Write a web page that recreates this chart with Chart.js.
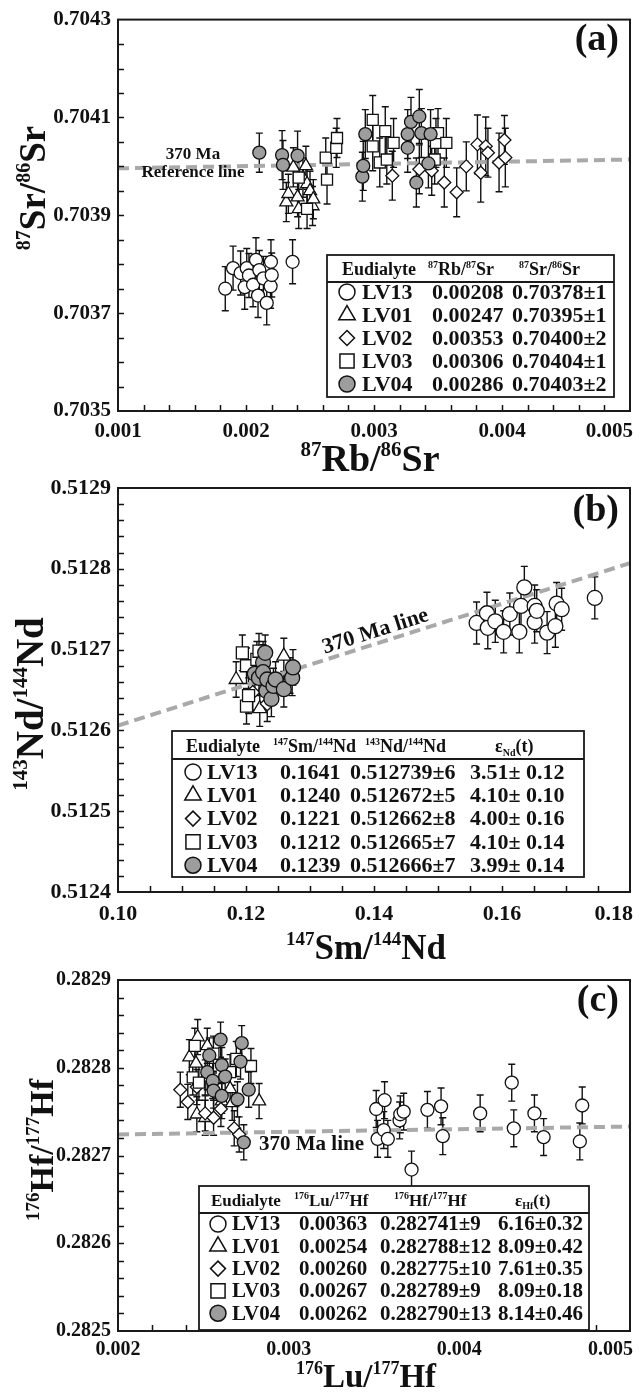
<!DOCTYPE html>
<html>
<head>
<meta charset="utf-8">
<script src="https://cdn.jsdelivr.net/npm/chart.js@4.4.0/dist/chart.umd.min.js"></script>
<style>
  html, body { margin: 0; padding: 0; background: #fff; }
  body { width: 643px; height: 1394px; position: relative; overflow: hidden; }
  canvas { position: absolute; left: 0; display: block; }
</style>
</head>
<body>
<canvas id="srChart" width="643" height="490" style="top:0"></canvas>
<canvas id="ndChart" width="643" height="505" style="top:460px"></canvas>
<canvas id="hfChart" width="643" height="454" style="top:940px"></canvas>
<script>
// ---------- (a) Rb-Sr ----------
const srXTicks = [0.001, 0.002, 0.003, 0.004, 0.005];
const srYTicks = [0.7035, 0.7037, 0.7039, 0.7041, 0.7043];
const srRefLine = [[0.001, 0.703996], [0.005, 0.704014]];
// [87Rb/86Sr, 87Sr/86Sr, 2s]
const srLV13 = [
  [0.001838, 0.703750, 0.000045], [0.001899, 0.703792, 0.000045], [0.001958, 0.703782, 0.000045],
  [0.001990, 0.703753, 0.000045], [0.002006, 0.703792, 0.000040], [0.002023, 0.703777, 0.000045],
  [0.002055, 0.703758, 0.000045], [0.002078, 0.703809, 0.000045], [0.002094, 0.703736, 0.000045],
  [0.002104, 0.703788, 0.000040], [0.002136, 0.703771, 0.000045], [0.002162, 0.703721, 0.000045],
  [0.002192, 0.703755, 0.000045], [0.002195, 0.703805, 0.000045], [0.002201, 0.703778, 0.000045],
  [0.002364, 0.703805, 0.000045]
];
const srLV01 = [
  [0.002315, 0.703927, 0.00004], [0.002331, 0.703944, 0.00004], [0.002370, 0.703998, 0.00004],
  [0.002403, 0.703937, 0.00004], [0.002412, 0.703913, 0.00004], [0.002445, 0.703977, 0.00004],
  [0.002468, 0.704001, 0.00004], [0.002477, 0.703964, 0.00004], [0.002500, 0.703950, 0.00004],
  [0.002520, 0.703919, 0.00004], [0.002526, 0.703933, 0.00004]
];
const srLV02 = [
  [0.003143, 0.703981, 0.00005], [0.003354, 0.703994, 0.00005], [0.003451, 0.703991, 0.00005],
  [0.003549, 0.703967, 0.00005], [0.003646, 0.703947, 0.00005], [0.003721, 0.704000, 0.00005],
  [0.003808, 0.704045, 0.00006], [0.003834, 0.703987, 0.00006], [0.003873, 0.704041, 0.00006],
  [0.003890, 0.704028, 0.00005], [0.003977, 0.704008, 0.00006], [0.004019, 0.704054, 0.00005],
  [0.004026, 0.704018, 0.00006]
];
const srLV03 = [
  [0.002412, 0.703977, 0.00004], [0.002477, 0.703913, 0.00004], [0.002623, 0.704018, 0.00004],
  [0.002633, 0.703973, 0.00005], [0.002705, 0.704038, 0.00004], [0.002711, 0.704058, 0.00004],
  [0.002990, 0.704095, 0.00005], [0.002990, 0.704041, 0.00005], [0.003045, 0.704008, 0.00005],
  [0.003088, 0.704072, 0.00005], [0.003100, 0.704014, 0.00005], [0.003153, 0.704048, 0.00005],
  [0.003474, 0.704014, 0.00005], [0.003484, 0.704048, 0.00005], [0.003500, 0.704068, 0.00005],
  [0.003565, 0.704048, 0.00005]
];
const srLV04 = [
  [0.002104, 0.704028, 0.00004], [0.002282, 0.704023, 0.00005], [0.002289, 0.704003, 0.00005],
  [0.002403, 0.704022, 0.00005], [0.002909, 0.703979, 0.00005], [0.002916, 0.704001, 0.00005],
  [0.002932, 0.704066, 0.00005], [0.003263, 0.704066, 0.00005], [0.003263, 0.704038, 0.00005],
  [0.003289, 0.704091, 0.00005], [0.003331, 0.703967, 0.00005], [0.003354, 0.704102, 0.000055],
  [0.003370, 0.704068, 0.00005], [0.003425, 0.704006, 0.00005], [0.003442, 0.704066, 0.00005]
];
const srHeader = ['Eudialyte', '^87Rb/^87Sr', '^87Sr/^86Sr'];
const srRbSr = ['0.00208', '0.00247', '0.00353', '0.00306', '0.00286'];
const srSrSr = ['0.70378\u00b11', '0.70395\u00b11', '0.70400\u00b12', '0.70404\u00b11', '0.70403\u00b12'];

// ---------- (b) Sm-Nd ----------
const ndXTicks = [0.10, 0.12, 0.14, 0.16, 0.18];
const ndYTicks = [0.5124, 0.5125, 0.5126, 0.5127, 0.5128, 0.5129];
const ndRefLine = [[0.10, 0.512606], [0.18, 0.512807]];
const ndLV13 = [
  [0.15603, 0.512733, 0.000026], [0.15765, 0.512745, 0.000026], [0.15778, 0.512727, 0.000026],
  [0.15895, 0.512735, 0.000026], [0.16025, 0.512722, 0.000026], [0.16122, 0.512744, 0.000026],
  [0.16271, 0.512722, 0.000026], [0.16297, 0.512754, 0.000026], [0.16349, 0.512777, 0.000026],
  [0.16510, 0.512754, 0.000026], [0.16510, 0.512734, 0.000026], [0.16543, 0.512748, 0.000026],
  [0.16705, 0.512721, 0.000026], [0.16834, 0.512729, 0.000026], [0.16854, 0.512757, 0.000026],
  [0.16932, 0.512750, 0.000026], [0.17450, 0.512764, 0.000026]
];
const ndLV01 = [
  [0.11846, 0.512663, 0.000022], [0.12215, 0.512627, 0.000022], [0.12267, 0.512688, 0.000022],
  [0.12591, 0.512692, 0.000022], [0.12688, 0.512668, 0.000022]
];
const ndLV02 = [
  [0.12105, 0.512647, 0.000022], [0.12203, 0.512680, 0.000022], [0.12332, 0.512633, 0.000022]
];
const ndLV03 = [
  [0.11943, 0.512696, 0.000022], [0.12008, 0.512680, 0.000022], [0.12008, 0.512630, 0.000022],
  [0.12040, 0.512643, 0.000022], [0.12170, 0.512688, 0.000022], [0.12203, 0.512698, 0.000022]
];
const ndLV04 = [
  [0.12138, 0.512670, 0.000022], [0.12203, 0.512665, 0.000022], [0.12267, 0.512684, 0.000022],
  [0.12267, 0.512672, 0.000022], [0.12300, 0.512696, 0.000022], [0.12319, 0.512649, 0.000022],
  [0.12332, 0.512663, 0.000022], [0.12397, 0.512639, 0.000022], [0.12429, 0.512655, 0.000022],
  [0.12462, 0.512663, 0.000022], [0.12591, 0.512651, 0.000022], [0.12721, 0.512665, 0.000022],
  [0.12734, 0.512678, 0.000022]
];
const ndHeader = ['Eudialyte', '^147Sm/^144Nd', '^143Nd/^144Nd', '\u03b5_Nd(t)'];
const ndSmNd = ['0.1641', '0.1240', '0.1221', '0.1212', '0.1239'];
const ndNdNd = ['0.512739\u00b16', '0.512672\u00b15', '0.512662\u00b18', '0.512665\u00b17', '0.512666\u00b17'];
const ndEps = ['3.51\u00b1 0.12', '4.10\u00b1 0.10', '4.00\u00b1 0.16', '4.10\u00b1 0.14', '3.99\u00b1 0.14'];

// ---------- (c) Lu-Hf ----------
const hfXTicks = [0.002, 0.003, 0.004, 0.005];
const hfYTicks = [0.2825, 0.2826, 0.2827, 0.2828, 0.2829];
const hfRefLine = [[0.002, 0.282724], [0.005, 0.282733]];
const hfLV13 = [
  [0.003513, 0.282753, 0.000021], [0.003521, 0.282719, 0.000021], [0.003557, 0.282729, 0.000021],
  [0.003562, 0.282763, 0.000021], [0.003581, 0.282719, 0.000021], [0.003650, 0.282740, 0.000021],
  [0.003654, 0.282747, 0.000021], [0.003674, 0.282750, 0.000021], [0.003720, 0.282684, 0.000021],
  [0.003813, 0.282752, 0.000021], [0.003893, 0.282756, 0.000021], [0.003903, 0.282722, 0.000021],
  [0.004122, 0.282748, 0.000021], [0.004307, 0.282783, 0.000021], [0.004319, 0.282731, 0.000021],
  [0.004440, 0.282748, 0.000021], [0.004494, 0.282721, 0.000021], [0.004706, 0.282716, 0.000021],
  [0.004720, 0.282757, 0.000021]
];
const hfLV01 = [
  [0.002418, 0.282812, 0.00002], [0.002457, 0.282805, 0.00002], [0.002462, 0.282747, 0.00002],
  [0.002467, 0.282835, 0.00002], [0.002511, 0.282789, 0.00002], [0.002511, 0.282743, 0.00002],
  [0.002523, 0.282825, 0.00002], [0.002608, 0.282762, 0.00002], [0.002657, 0.282776, 0.00002],
  [0.002669, 0.282760, 0.00002], [0.002827, 0.282762, 0.00002]
];
const hfLV02 = [
  [0.002365, 0.282775, 0.00002], [0.002409, 0.282761, 0.00002], [0.002462, 0.282778, 0.00002],
  [0.002511, 0.282748, 0.00002], [0.002560, 0.282743, 0.00002], [0.002603, 0.282753, 0.00002],
  [0.002681, 0.282731, 0.00002], [0.002710, 0.282724, 0.00002]
];
const hfLV03 = [
  [0.002438, 0.282789, 0.00002], [0.002450, 0.282825, 0.00002], [0.002474, 0.282783, 0.00002],
  [0.002559, 0.282816, 0.00002], [0.002657, 0.282795, 0.00002], [0.002693, 0.282810, 0.00002],
  [0.002779, 0.282802, 0.00002]
];
const hfLV04 = [
  [0.002523, 0.282795, 0.00002], [0.002535, 0.282814, 0.00002], [0.002555, 0.282785, 0.00002],
  [0.002560, 0.282774, 0.00002], [0.002601, 0.282832, 0.00002], [0.002608, 0.282803, 0.00002],
  [0.002608, 0.282768, 0.00002], [0.002628, 0.282790, 0.00002], [0.002700, 0.282764, 0.00002],
  [0.002718, 0.282807, 0.00002], [0.002725, 0.282828, 0.00002], [0.002737, 0.282715, 0.00002],
  [0.002766, 0.282775, 0.00002]
];
const hfHeader = ['Eudialyte', '^176Lu/^177Hf', '^176Hf/^177Hf', '\u03b5_Hf(t)'];
const hfLuHf = ['0.00363', '0.00254', '0.00260', '0.00267', '0.00262'];
const hfHfHf = ['0.282741\u00b19', '0.282788\u00b112', '0.282775\u00b110', '0.282789\u00b19', '0.282790\u00b113'];
const hfEps = ['6.16\u00b10.32', '8.09\u00b10.42', '7.61\u00b10.35', '8.09\u00b10.18', '8.14\u00b10.46'];

const samples = ['LV13', 'LV01', 'LV02', 'LV03', 'LV04'];

// ---------- shared drawing helpers ----------
const SERIF = "'Liberation Serif', 'Times New Roman', serif";
const INK = '#111';
const markStyle = {
  LV13: { shape: 'circle', fill: '#ffffff' },
  LV01: { shape: 'triangle', fill: '#ffffff' },
  LV02: { shape: 'rectRot', fill: '#ffffff' },
  LV03: { shape: 'rect', fill: '#ffffff' },
  LV04: { shape: 'circle', fill: '#9d9d9d' }
};
// lower order is painted later (on top)
const drawOrder = { LV13: 5, LV01: 4, LV02: 3, LV03: 2, LV04: 1 };

// '^87' -> superscript, '_Nd' -> subscript, rest normal
function richParts(str) {
  return str.match(/\^\d+|_[A-Z][a-z]*|[^\^_]+/g).map(p =>
    p[0] === '^' ? { t: p.slice(1), k: 'sup' } :
    p[0] === '_' ? { t: p.slice(1), k: 'sub' } : { t: p, k: 'n' });
}

function drawRich(ctx, str, x, y, size, small, align, rotate) {
  const parts = richParts(str);
  const font = s => `bold ${s}px ${SERIF}`;
  let w = 0;
  parts.forEach(p => {
    ctx.font = font(p.k === 'n' ? size : small);
    p.w = ctx.measureText(p.t).width;
    w += p.w;
  });
  ctx.save();
  ctx.translate(x, y);
  if (rotate) ctx.rotate(rotate);
  ctx.fillStyle = INK;
  ctx.textAlign = 'left';
  ctx.textBaseline = 'alphabetic';
  let cx = align === 'center' ? -w / 2 : align === 'right' ? -w : 0;
  parts.forEach(p => {
    ctx.font = font(p.k === 'n' ? size : small);
    const dy = p.k === 'sup' ? -size * 0.4 : p.k === 'sub' ? size * 0.22 : 0;
    ctx.fillText(p.t, cx, dy);
    cx += p.w;
  });
  ctx.restore();
}

function drawMark(ctx, shape, r, x, y, fill) {
  ctx.beginPath();
  if (shape === 'circle') {
    ctx.arc(x, y, r, 0, Math.PI * 2);
  } else if (shape === 'triangle') {
    ctx.moveTo(x, y - r);
    ctx.lineTo(x + r * 0.866, y + r * 0.5);
    ctx.lineTo(x - r * 0.866, y + r * 0.5);
    ctx.closePath();
  } else if (shape === 'rectRot') {
    ctx.moveTo(x, y - r); ctx.lineTo(x + r, y); ctx.lineTo(x, y + r); ctx.lineTo(x - r, y);
    ctx.closePath();
  } else {
    const s = r * Math.SQRT1_2;
    ctx.rect(x - s, y - s, 2 * s, 2 * s);
  }
  ctx.fillStyle = fill;
  ctx.fill();
  ctx.lineWidth = 1.5;
  ctx.strokeStyle = INK;
  ctx.stroke();
}

// frame, inward ticks, labels, titles, reference-line text and the summary table
function panelDecor(p) {
  return {
    id: 'decor',
    beforeDatasetsDraw(chart) {
      const ctx = chart.ctx, ys = chart.scales.y;
      ctx.save();
      ctx.strokeStyle = INK;
      ctx.lineWidth = 1.4;
      chart.data.datasets.forEach((ds, i) => {
        if (!ds.errors) return;
        chart.getDatasetMeta(i).data.forEach((pt, j) => {
          const v = ds.data[j].y, e = ds.errors[j];
          const y1 = ys.getPixelForValue(v + e), y2 = ys.getPixelForValue(v - e);
          ctx.beginPath();
          ctx.moveTo(pt.x, y1); ctx.lineTo(pt.x, y2);
          ctx.moveTo(pt.x - 3.5, y1); ctx.lineTo(pt.x + 3.5, y1);
          ctx.moveTo(pt.x - 3.5, y2); ctx.lineTo(pt.x + 3.5, y2);
          ctx.stroke();
        });
      });
      ctx.restore();
    },
    afterDraw(chart) {
      const ctx = chart.ctx, a = chart.chartArea;
      const xs = chart.scales.x, ys = chart.scales.y;
      ctx.save();

      // minor + major ticks, pointing inward
      ctx.strokeStyle = INK;
      ctx.lineWidth = 1.5;
      ctx.beginPath();
      const nx = Math.round((p.xMax - p.xMin) / p.xMinor);
      for (let i = 1; i < nx; i++) {
        const px = Math.round(xs.getPixelForValue(p.xMin + i * p.xMinor)) + 0.5;
        ctx.moveTo(px, a.bottom); ctx.lineTo(px, a.bottom - 6);
      }
      const ny = Math.round((p.yMax - p.yMin) / p.yMinor);
      for (let i = 1; i < ny; i++) {
        const py = Math.round(ys.getPixelForValue(p.yMin + i * p.yMinor)) + 0.5;
        ctx.moveTo(a.left, py); ctx.lineTo(a.left + 6, py);
      }
      ctx.stroke();

      // frame
      ctx.lineWidth = 2;
      ctx.strokeStyle = '#1a1a1a';
      ctx.strokeRect(a.left, a.top, a.right - a.left, a.bottom - a.top);

      // x tick labels (last one kept inside the frame)
      ctx.fillStyle = INK;
      ctx.font = `bold ${p.tickSize}px ${SERIF}`;
      ctx.textBaseline = 'middle';
      p.xTicks.forEach((v, i) => {
        const last = i === p.xTicks.length - 1;
        ctx.textAlign = last ? 'right' : 'center';
        const px = last ? a.right + 3 : xs.getPixelForValue(v);
        ctx.fillText(v.toFixed(p.xDigits), px, a.bottom + p.labelGap);
      });

      // axis titles
      drawRich(ctx, p.xTitle.text, p.xTitle.x, p.xTitle.y, p.xTitle.size, p.xTitle.sup, 'center', 0);
      drawRich(ctx, p.yTitle.text, p.yTitle.x, p.yTitle.y, p.yTitle.size, p.yTitle.sup, 'center', -Math.PI / 2);

      // panel letter
      ctx.font = `bold ${p.letter.size}px ${SERIF}`;
      ctx.textAlign = 'right';
      ctx.textBaseline = 'alphabetic';
      ctx.fillText(p.letter.text, p.letter.x, p.letter.y);

      // reference line text
      const lineMeta = chart.getDatasetMeta(chart.data.datasets.length - 1).data;
      p.refLabels.forEach(l => {
        ctx.font = `bold ${l.size}px ${SERIF}`;
        ctx.textAlign = 'center';
        ctx.textBaseline = 'alphabetic';
        if (l.along) {
          const p0 = lineMeta[0], p1 = lineMeta[1];
          const t = (l.x - p0.x) / (p1.x - p0.x);
          const py = p0.y + t * (p1.y - p0.y);
          ctx.save();
          ctx.translate(l.x, py);
          ctx.rotate(Math.atan2(p1.y - p0.y, p1.x - p0.x));
          ctx.fillText(l.text, 0, -l.lift);
          ctx.restore();
        } else {
          ctx.textAlign = l.align || 'center';
          ctx.fillText(l.text, l.x, l.y);
        }
      });

      // summary table
      const L = p.legend;
      const [bx1, by1, bx2, by2] = L.box;
      ctx.fillStyle = '#fff';
      ctx.fillRect(bx1, by1, bx2 - bx1, by2 - by1);
      ctx.lineWidth = 1.8;
      ctx.strokeStyle = '#1a1a1a';
      ctx.strokeRect(bx1, by1, bx2 - bx1, by2 - by1);
      ctx.beginPath();
      ctx.moveTo(bx1, L.lineY); ctx.lineTo(bx2, L.lineY);
      ctx.stroke();
      L.headers.forEach((h, i) => {
        drawRich(ctx, h, L.headX[i], L.headY + L.headSize * 0.33, L.headSize, L.headSup, 'left', 0);
      });
      samples.forEach((name, r) => {
        const cy = L.rowY + r * L.rowStep;
        const st = markStyle[name];
        drawMark(ctx, st.shape, L.symR[st.shape], L.symX, cy, st.fill);
        ctx.fillStyle = INK;
        ctx.font = `bold ${L.rowSize}px ${SERIF}`;
        ctx.textAlign = 'left';
        ctx.textBaseline = 'middle';
        ctx.fillText(name, L.nameX, cy + 1);
        L.columns.forEach((col, c) => ctx.fillText(col[r], L.colX[c], cy + 1));
      });
      ctx.restore();
    }
  };
}

function buildPanel(p) {
  const datasets = samples.map(name => {
    const st = markStyle[name];
    const rows = p.series[name];
    return {
      label: name,
      data: rows.map(r => ({ x: r[0], y: r[1] })),
      errors: rows.map(r => r[2]),
      showLine: false,
      pointStyle: st.shape,
      pointRadius: p.radius[st.shape],
      pointBackgroundColor: st.fill,
      pointBorderColor: INK,
      pointBorderWidth: 1.3,
      backgroundColor: st.fill,
      borderColor: INK,
      order: drawOrder[name]
    };
  });
  datasets.push({
    label: '370 Ma',
    data: p.refLine.map(r => ({ x: r[0], y: r[1] })),
    showLine: true,
    pointRadius: 0,
    borderColor: '#a9a9a9',
    borderWidth: 4,
    borderDash: [11, 6],
    fill: false,
    order: 10
  });

  const H = document.getElementById(p.id).height;
  new Chart(document.getElementById(p.id), {
    type: 'scatter',
    data: { datasets },
    options: {
      responsive: false,
      animation: false,
      events: [],
      layout: { padding: { left: 0, right: 13, top: p.top, bottom: 0 } },
      plugins: { legend: { display: false }, tooltip: { enabled: false } },
      scales: {
        x: {
          type: 'linear', min: p.xMin, max: p.xMax,
          afterBuildTicks: s => { s.ticks = p.xTicks.map(v => ({ value: v })); },
          afterFit: s => { s.height = H - p.bottom; },
          ticks: { display: false },
          grid: { display: false, drawTicks: false },
          border: { display: false }
        },
        y: {
          type: 'linear', min: p.yMin, max: p.yMax,
          afterBuildTicks: s => { s.ticks = p.yTicks.map(v => ({ value: v })); },
          afterFit: s => { s.width = 118; },
          ticks: {
            color: INK, padding: 7,
            font: { family: SERIF, size: p.tickSize, weight: 'bold' },
            callback: v => Number(v).toFixed(4)
          },
          grid: { display: false, drawTicks: false },
          border: { display: false }
        }
      }
    },
    plugins: [panelDecor(p)]
  });
}

buildPanel({
  id: 'srChart', top: 15, bottom: 411,
  xMin: 0.001, xMax: 0.005, xTicks: srXTicks, xDigits: 3, xMinor: 0.0002,
  yMin: 0.7035, yMax: 0.7043, yTicks: srYTicks, yMinor: 0.00005,
  tickSize: 21, labelGap: 21,
  series: { LV13: srLV13, LV01: srLV01, LV02: srLV02, LV03: srLV03, LV04: srLV04 },
  refLine: srRefLine,
  radius: { circle: 6.5, triangle: 7.5, rectRot: 6.5, rect: 7.8 },
  xTitle: { text: '^87Rb/^86Sr', x: 370, y: 471, size: 38, sup: 21 },
  yTitle: { text: '^87Sr/^86Sr', x: 45, y: 188, size: 37, sup: 20 },
  letter: { text: '(a)', x: 619, y: 50, size: 38 },
  refLabels: [
    { text: '370 Ma', x: 193, y: 159, size: 17 },
    { text: 'Reference line', x: 193, y: 177, size: 17 }
  ],
  legend: {
    box: [327, 255, 614, 397], lineY: 282, headY: 269, headSize: 18, headSup: 10,
    headers: srHeader, headX: [342, 428, 519],
    rowY: 292, rowStep: 23, rowSize: 22,
    symX: 347, nameX: 362, colX: [432, 512], columns: [srRbSr, srSrSr],
    symR: { circle: 8, triangle: 9.5, rectRot: 7.5, rect: 10 }
  }
});

buildPanel({
  id: 'ndChart', top: 28, bottom: 432,
  xMin: 0.10, xMax: 0.18, xTicks: ndXTicks, xDigits: 2, xMinor: 0.005,
  yMin: 0.5124, yMax: 0.5129, yTicks: ndYTicks, yMinor: 0.00002,
  tickSize: 22, labelGap: 22,
  series: { LV13: ndLV13, LV01: ndLV01, LV02: ndLV02, LV03: ndLV03, LV04: ndLV04 },
  refLine: ndRefLine,
  radius: { circle: 7.5, triangle: 8, rectRot: 7, rect: 8.5 },
  xTitle: { text: '^147Sm/^144Nd', x: 366, y: 499, size: 35, sup: 19 },
  yTitle: { text: '^143Nd/^144Nd', x: 43, y: 244, size: 39, sup: 21 },
  letter: { text: '(b)', x: 619, y: 61, size: 38 },
  refLabels: [
    { text: '370 Ma line', x: 379, along: true, lift: 6, size: 22 }
  ],
  legend: {
    box: [172, 271, 584, 417], lineY: 299, headY: 286, headSize: 18, headSup: 10,
    headers: ndHeader, headX: [186, 273, 365, 495],
    rowY: 312, rowStep: 23.3, rowSize: 22,
    symX: 193, nameX: 207, colX: [280, 350, 470], columns: [ndSmNd, ndNdNd, ndEps],
    symR: { circle: 8, triangle: 9.5, rectRot: 7.5, rect: 10 }
  }
});

buildPanel({
  id: 'hfChart', top: 40, bottom: 391,
  xMin: 0.002, xMax: 0.005, xTicks: hfXTicks, xDigits: 3, xMinor: 0.0002,
  yMin: 0.2825, yMax: 0.2829, yTicks: hfYTicks, yMinor: 0.00002,
  tickSize: 20, labelGap: 19,
  series: { LV13: hfLV13, LV01: hfLV01, LV02: hfLV02, LV03: hfLV03, LV04: hfLV04 },
  refLine: hfRefLine,
  radius: { circle: 6.5, triangle: 7.5, rectRot: 6.5, rect: 7.8 },
  xTitle: { text: '^176Lu/^177Hf', x: 366, y: 447, size: 33, sup: 18 },
  yTitle: { text: '^176Hf/^177Hf', x: 53, y: 210, size: 34, sup: 19 },
  letter: { text: '(c)', x: 619, y: 71, size: 38 },
  refLabels: [
    { text: '370 Ma line', x: 259, y: 210, size: 21, align: 'left' }
  ],
  legend: {
    box: [199, 246, 589, 390], lineY: 273, headY: 260, headSize: 17, headSup: 10,
    headers: hfHeader, headX: [211, 294, 394, 515],
    rowY: 284, rowStep: 22.3, rowSize: 21,
    symX: 218, nameX: 232, colX: [299, 380, 498], columns: [hfLuHf, hfHfHf, hfEps],
    symR: { circle: 8, triangle: 9.5, rectRot: 7.5, rect: 10 }
  }
});
</script>
</body>
</html>
